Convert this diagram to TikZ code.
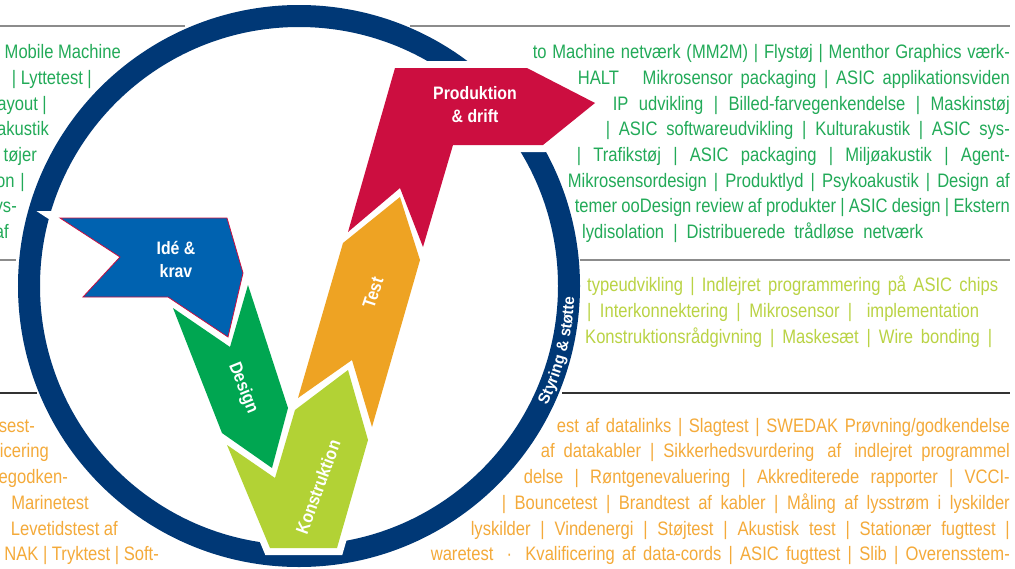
\documentclass[tikz,border=0pt]{standalone}
\usepackage{fontspec}
\usetikzlibrary{decorations.text}
\newfontfamily\bodyfont[FakeStretch=0.85]{Liberation Sans}
\newfontfamily\labelfont[FakeStretch=0.88]{Liberation Sans}
\newfontfamily\ringfont[FakeStretch=0.95]{Liberation Sans}
\definecolor{ringblue}{RGB}{0,56,118}
\definecolor{ideblue}{RGB}{0,98,176}
\definecolor{designgreen}{RGB}{0,166,81}
\definecolor{konlime}{RGB}{178,210,53}
\definecolor{testorange}{RGB}{238,163,35}
\definecolor{prodred}{RGB}{204,14,64}
\definecolor{txtgreen}{RGB}{34,170,88}
\definecolor{txtlime}{RGB}{186,211,68}
\definecolor{txtorange}{RGB}{244,170,58}
\begin{document}
\begin{tikzpicture}[x=1pt,y=-1pt,
  halo/.style={draw=white,line width=14pt,line join=miter},
  rulegray/.style={draw=black!45,line width=1.2pt},
  ruledark/.style={draw=black!80,line width=1.2pt},
  phase/.style={text=white,font=\labelfont\bfseries\fontsize{18}{23}\selectfont,inner sep=0pt,align=center},
  body/.style={inner sep=0pt,font=\bodyfont\fontsize{19.5}{22}\selectfont},
  gtxt/.style={body,text=txtgreen},
  ltxt/.style={body,text=txtlime},
  otxt/.style={body,text=txtorange}]
\useasboundingbox (0,0) rectangle (1015,568);
\fill[white] (0,0) rectangle (1015,568);

% separator rules
\draw[rulegray] (0,26) -- (185,26);
\draw[rulegray] (410,26) -- (1010,26);
\draw[rulegray] (0,260) -- (16,260);
\draw[rulegray] (580,260) -- (1010,260);
\draw[ruledark] (0,393) -- (37,393);
\draw[ruledark] (562,393) -- (1010,393);

% outer ring
\draw[ringblue,line width=22pt] (299,286) circle[radius=270];

% white halos of the phase arrows
\draw[halo] (60,218) -- (227,218) -- (243,273) -- (228,337) -- (168,297) -- (83,297) -- (120,257) -- cycle;
\draw[halo] (173,308) -- (230,347) -- (248,285) -- (288,408) -- (272,468) -- (222,433) -- cycle;
\draw[halo] (227,445) -- (275,478) -- (295,410) -- (348,370) -- (368,440) -- (337,548) -- (270,548) -- cycle;
\draw[halo] (343,243) -- (400,197) -- (420,260) -- (372,427) -- (352,360) -- (298,398) -- cycle;
\draw[halo] (395,68) -- (527,68) -- (595,103) -- (543,145) -- (453,145) -- (423,247) -- (400,188) -- (348,232) -- cycle;

% phase arrows
\filldraw[fill=ideblue,draw=prodred,line width=0.8pt] (60,218) -- (227,218) -- (243,273) -- (228,337) -- (168,297) -- (83,297) -- (120,257) -- cycle;
\fill[designgreen] (173,308) -- (230,347) -- (248,285) -- (288,408) -- (272,468) -- (222,433) -- cycle;
\fill[konlime] (227,445) -- (275,478) -- (295,410) -- (348,370) -- (368,440) -- (337,548) -- (270,548) -- cycle;
\fill[testorange] (343,243) -- (400,197) -- (420,260) -- (372,427) -- (352,360) -- (298,398) -- cycle;
\fill[prodred] (395,68) -- (527,68) -- (595,103) -- (543,145) -- (453,145) -- (423,247) -- (400,188) -- (348,232) -- cycle;

% phase labels
\node[phase] (ide) at (176,259) {Idé \&\\krav};
\node[phase] (prod) at (475,105) {Produktion\\\& drift};
\node[phase,rotate=-68] (design) at (243,388) {Design};
\node[phase,rotate=72] (test) at (373,293) {Test};
\node[phase,rotate=70] (kon) at (318,487) {Konstruktion};

% ring caption
\begin{scope}[shift={(299,286)},y=1pt]
\path[decorate,decoration={text along path,text align=center,
  text={|\ringfont\bfseries\fontsize{16}{16}\selectfont\color{white}|Styring {\&} støtte}}]
  (-38:275.5) arc[start angle=-38,end angle=10,radius=275.5];
\end{scope}

% green block, left
\node[gtxt,anchor=base east] (gl1) at (121,58) {Mobile Machine};
\node[gtxt,anchor=base east] (gl2) at (92,84) {| Lyttetest |};
\node[gtxt,anchor=base east] (gl3) at (47,110) {ayout |};
\node[gtxt,anchor=base east] (gl4) at (49,135) {akustik};
\node[gtxt,anchor=base east] (gl5) at (37,161) {tøjer};
\node[gtxt,anchor=base east] (gl6) at (25,187) {on\hspace*{6pt}|};
\node[gtxt,anchor=base east] (gl7) at (17,212) {ys-};
\node[gtxt,anchor=base east] (gl8) at (9,238) {af};

% green block, right
\node[gtxt,anchor=base east] (g1) at (1010,58) {\makebox[477pt][s]{to Machine netværk (MM2M) | Flystøj | Menthor Graphics værk-}};
\node[gtxt,anchor=base east] (g2) at (1010,84) {\makebox[432pt][s]{HALT\hspace*{16pt} Mikrosensor packaging | ASIC applikationsviden}};
\node[gtxt,anchor=base east] (g3) at (1010,110) {\makebox[397pt][s]{IP udvikling | Billed-farvegenkendelse | Maskinstøj}};
\node[gtxt,anchor=base east] (g4) at (1010,135) {\makebox[404pt][s]{| ASIC softwareudvikling | Kulturakustik | ASIC sys-}};
\node[gtxt,anchor=base east] (g5) at (1010,161) {\makebox[433pt][s]{| Trafikstøj | ASIC packaging | Miljøakustik | Agent-}};
\node[gtxt,anchor=base east] (g6) at (1010,187) {\makebox[442pt][s]{Mikrosensordesign | Produktlyd | Psykoakustik | Design af}};
\node[gtxt,anchor=base east] (g7) at (1010,212) {\makebox[435pt][s]{temer ooDesign review af produkter | ASIC design | Ekstern}};
\node[gtxt,anchor=base west] (g8) at (582,238) {\makebox[341pt][s]{lydisolation | Distribuerede trådløse netværk}};

% light green block
\node[ltxt,anchor=base west] (l1) at (587,291) {\makebox[411pt][s]{typeudvikling | Indlejret programmering på ASIC chips}};
\node[ltxt,anchor=base west] (l2) at (587,317) {\makebox[392pt][s]{| Interkonnektering | Mikrosensor |\hspace*{6pt} implementation}};
\node[ltxt,anchor=base west] (l3) at (585,343) {\makebox[407pt][s]{Konstruktionsrådgivning | Maskesæt | Wire bonding |}};

% orange block, left
\node[otxt,anchor=base east] (ol1) at (35,432) {sest-};
\node[otxt,anchor=base east] (ol2) at (49,457) {icering};
\node[otxt,anchor=base east] (ol3) at (68,483) {egodken-};
\node[otxt,anchor=base east] (ol4) at (89,509) {Marinetest};
\node[otxt,anchor=base east] (ol5) at (118,535) {Levetidstest af};
\node[otxt,anchor=base east] (ol6) at (159,560) {NAK | Tryktest | Soft-};

% orange block, right
\node[otxt,anchor=base east] (o1) at (1010,432) {\makebox[453pt][s]{est af datalinks | Slagtest | SWEDAK Prøvning/godkendelse}};
\node[otxt,anchor=base east] (o2) at (1010,457) {\makebox[469pt][s]{af datakabler | Sikkerhedsvurdering\hspace*{4pt} af\hspace*{4pt} indlejret programmel}};
\node[otxt,anchor=base east] (o3) at (1010,483) {\makebox[486pt][s]{delse | Røntgenevaluering | Akkrediterede rapporter | VCCI-}};
\node[otxt,anchor=base east] (o4) at (1010,509) {\makebox[508pt][s]{| Bouncetest | Brandtest af kabler | Måling af lysstrøm i lyskilder}};
\node[otxt,anchor=base east] (o5) at (1010,535) {\makebox[539pt][s]{lyskilder | Vindenergi | Støjtest | Akustisk test | Stationær fugttest |}};
\node[otxt,anchor=base east] (o6) at (1010,560) {\makebox[579pt][s]{waretest\hspace*{6pt} · \hspace*{6pt}Kvalificering af data-cords | ASIC fugttest | Slib | Overensstem-}};
\end{tikzpicture}
\end{document}
